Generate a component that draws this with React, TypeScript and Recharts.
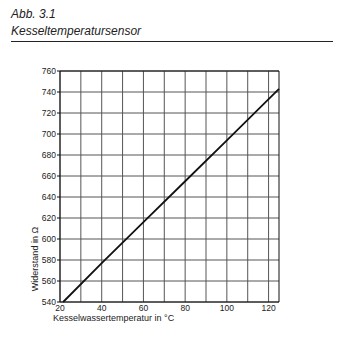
import React from 'react';
import { LineChart, Line, XAxis, YAxis, CartesianGrid, ReferenceLine } from 'recharts';

// Kennlinie Kesseltemperatursensor
const temps = [21.5, 40, 60, 80, 100, 125];
const ohms = [540, 577, 616, 655, 694, 743];
const xTicks = [20, 40, 60, 80, 100, 120];
const xGrid = [30, 50, 70, 90, 110];
const yTicks = [540, 560, 580, 600, 620, 640, 660, 680, 700, 720, 740, 760];

const data = temps.map((t, i) => ({ t, r: ohms[i] }));

const font = '"Liberation Sans", Arial, sans-serif';

export default function App() {
  return (
    <div style={{ position: 'absolute', left: 0, top: 0, width: 346, height: 339, background: '#fff', fontFamily: font }}>
      <div style={{ position: 'absolute', left: 11, top: 7, fontSize: 12, fontStyle: 'italic', color: '#222' }}>Abb. 3.1</div>
      <div style={{ position: 'absolute', left: 11, top: 24, fontSize: 12, fontStyle: 'italic', color: '#222' }}>Kesseltemperatursensor</div>
      <div style={{ position: 'absolute', left: 11, top: 41, width: 322, height: 1, background: '#222' }} />
      <LineChart
        width={346}
        height={339}
        data={data}
        margin={{ top: 71, right: 67, bottom: 17, left: 20 }}
        style={{ position: 'absolute', left: 0, top: 0 }}
      >
        <CartesianGrid stroke="#555" strokeWidth={1} vertical={false} />
        {[...xTicks, ...xGrid].map((x) => (
          <ReferenceLine key={x} x={x} stroke="#555" strokeWidth={1} ifOverflow="visible" />
        ))}
        <XAxis
          dataKey="t"
          type="number"
          domain={[20, 125]}
          ticks={xTicks}
          height={20}
          axisLine={{ stroke: '#111' }}
          tickLine={false}
          tickSize={0}
          tick={{ fill: '#222', fontSize: 8.5, fontFamily: font }}
          tickMargin={3}
        />
        <YAxis
          type="number"
          domain={[540, 760]}
          ticks={yTicks}
          width={40}
          interval={0}
          axisLine={{ stroke: '#111' }}
          tickSize={3}
          tickLine={{ stroke: '#111' }}
          tick={{ fill: '#222', fontSize: 8.5, fontFamily: font }}
          tickMargin={1}
        />
        <ReferenceLine y={760} stroke="#111" />
        <ReferenceLine x={125} stroke="#111" />
        <Line type="linear" dataKey="r" stroke="#111" strokeWidth={1.8} dot={false} isAnimationActive={false} />
      </LineChart>
      <div style={{ position: 'absolute', left: 53, top: 313, fontSize: 9, color: '#222' }}>Kesselwassertemperatur in °C</div>
      <div
        style={{
          position: 'absolute',
          left: 35,
          top: 259,
          fontSize: 9,
          color: '#222',
          whiteSpace: 'nowrap',
          transform: 'translate(-50%, -50%) rotate(-90deg)',
        }}
      >
        Widerstand in Ω
      </div>
    </div>
  );
}
